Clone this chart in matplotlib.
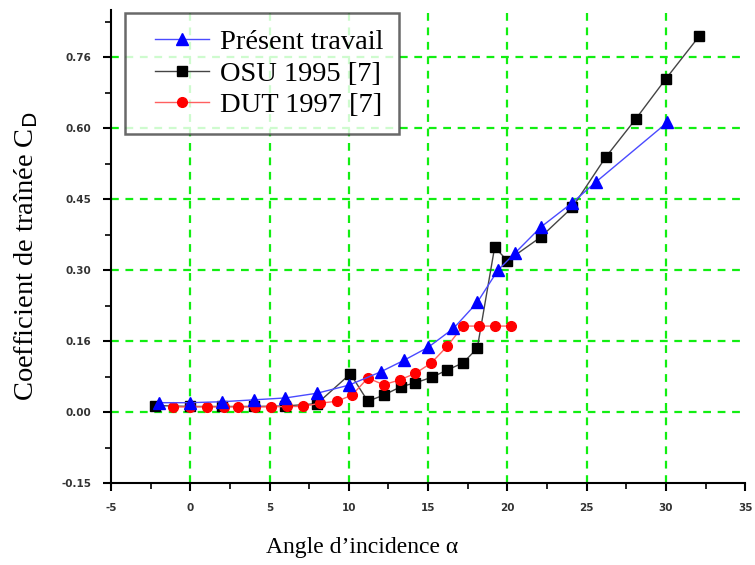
import matplotlib
matplotlib.use("Agg")
import matplotlib.pyplot as plt
from matplotlib.legend_handler import HandlerLine2D
from matplotlib.lines import Line2D

# Présent travail
present_x = [-2, 0, 2, 4, 6, 8, 10, 12, 13.5, 15, 16.6, 18.1, 19.4, 20.5, 22.1, 24.1, 25.6, 30.1]
present_y = [0.020, 0.020, 0.022, 0.026, 0.030, 0.040, 0.057, 0.085, 0.110, 0.137, 0.177, 0.232, 0.300, 0.337, 0.391, 0.443, 0.487, 0.613]

# OSU 1995 [7]
osu_x = [-2.2, 0, 2, 4, 6, 8, 10.1, 11.2, 12.2, 13.3, 14.2, 15.25, 16.2, 17.2, 18.1, 19.2, 20.0, 22.1, 24.1, 26.2, 28.1, 30.0, 32.1]
osu_y = [0.014, 0.012, 0.012, 0.012, 0.013, 0.018, 0.081, 0.023, 0.036, 0.054, 0.062, 0.074, 0.089, 0.104, 0.135, 0.349, 0.320, 0.370, 0.433, 0.539, 0.620, 0.705, 0.795]

# DUT 1997 [7]
dut_x = [-1.1, 0, 1.05, 2.1, 3.0, 4.1, 5.1, 6.1, 7.1, 8.2, 9.25, 10.2, 11.2, 12.2, 13.2, 14.2, 15.2, 16.2, 17.2, 18.2, 19.2, 20.2]
dut_y = [0.011, 0.011, 0.011, 0.011, 0.011, 0.011, 0.011, 0.012, 0.012, 0.019, 0.023, 0.036, 0.072, 0.058, 0.068, 0.082, 0.104, 0.139, 0.182, 0.182, 0.182, 0.182]

xticks = [-5, 0, 5, 10, 15, 20, 25, 30, 35]
xticklabels = ["-5", "0", "5", "10", "15", "20", "25", "30", "35"]
yticks = [-0.15, 0.0, 0.15, 0.30, 0.45, 0.60, 0.75]
yticklabels = ["-0.15", "0.00", "0.16", "0.30", "0.45", "0.60", "0.76"]

serif = ["Liberation Serif", "DejaVu Serif"]

fig = plt.figure(figsize=(7.55, 5.65), dpi=100)
ax = fig.add_axes([0.147, 0.145, 0.840, 0.837])

ax.set_xlim(-5, 35)
ax.set_ylim(-0.15, 0.85)

green = "#11ee11"
for xv in xticks[1:-1]:
    ax.axvline(xv, color=green, ls=(0, (3.5, 3)), lw=1.6, zorder=0)
for yv in yticks[1:]:
    ax.axhline(yv, color=green, ls=(0, (3.5, 3)), lw=1.6, zorder=0)

ax.plot(osu_x, osu_y, color="#444444", lw=1.0, marker="s", ms=7,
        mfc="black", mec="black", label="OSU 1995 [7]", zorder=2)
ax.plot(dut_x, dut_y, color="#ff6060", lw=1.0, marker="o", ms=7,
        mfc="#ff0000", mec="#ff0000", label="DUT 1997 [7]", zorder=3)
ax.plot(present_x, present_y, color="#4a4aff", lw=1.0, marker="^", ms=9,
        mfc="#0000ff", mec="#0000ff", label="Présent travail", zorder=4)

for s in ["top", "right"]:
    ax.spines[s].set_visible(False)
for s in ["left", "bottom"]:
    ax.spines[s].set_linewidth(1.5)
    ax.spines[s].set_color("black")

ax.set_xticks(xticks)
ax.set_xticklabels(xticklabels)
ax.set_yticks(yticks)
ax.set_yticklabels(yticklabels)
ax.set_xticks([-2.5 + 5 * i for i in range(8)], minor=True)
ax.set_yticks([-0.075, 0.075, 0.225, 0.375, 0.525, 0.675, 0.825], minor=True)
ax.tick_params(axis="both", which="major", direction="out", length=6, width=1.5,
               labelsize=7.5, pad=8)
ax.tick_params(axis="both", which="minor", direction="out", length=4, width=1.2)
for lab in ax.get_xticklabels() + ax.get_yticklabels():
    lab.set_fontweight("bold")
    lab.set_color("#333333")

ax.set_xlabel("Angle d\u2019incidence \u03b1", family=serif, fontsize=17)
ax.xaxis.set_label_coords(0.396, -0.115)
ax.set_ylabel("Coefficient de traînée C$_\\mathrm{D}$", family=serif, fontsize=20.5)
ax.yaxis.set_label_coords(-0.112, 0.48)

handles, labels = ax.get_legend_handles_labels()
order = [2, 0, 1]
leg = ax.legend([handles[i] for i in order], [labels[i] for i in order],
                loc="upper left", bbox_to_anchor=(0.022, 0.994), frameon=True,
                fancybox=False, prop={"family": serif, "size": 20.5},
                handlelength=2.4, handletextpad=0.4, borderpad=0.55,
                labelspacing=0.21, borderaxespad=0.0,
                handler_map={Line2D: HandlerLine2D(xpad=0.5)})
leg.get_frame().set_edgecolor("#444444")
leg.get_frame().set_linewidth(1.8)
leg.set_zorder(10)

fig.savefig("out.png", dpi=100)
